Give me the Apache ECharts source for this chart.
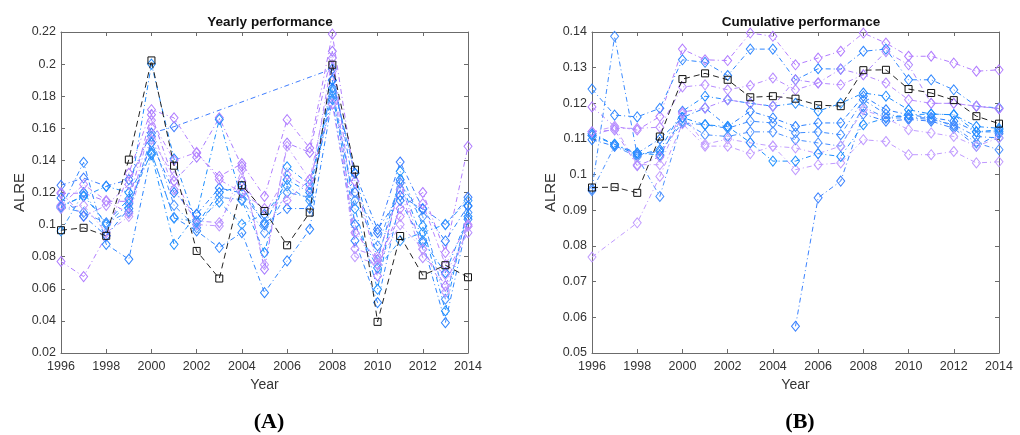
<!DOCTYPE html>
<html><head><meta charset="utf-8">
<script src="https://cdn.jsdelivr.net/npm/echarts@6/dist/echarts.min.js"></script>
<style>html,body{margin:0;padding:0;background:#fff}#c{width:1020px;height:435px}</style>
</head><body><div id="c"></div>
<script>
const years = [1996,1997,1998,1999,2000,2001,2002,2003,2004,2005,2006,2007,2008,2009,2010,2011,2012,2013,2014];
const xTicks = [1996,1998,2000,2002,2004,2006,2008,2010,2012,2014];

// Panel A: yearly performance (ALRE)
const yearlyBlack = [0.0965,0.098,0.093,0.1405,0.2023,0.1367,0.0836,0.0664,0.1245,0.1085,0.0871,0.1075,0.1996,0.1342,0.0394,0.0929,0.0684,0.0747,0.0672];
const yearlyA1 = [0.111,0.118,0.101,0.116,0.200,0.141,0.100,0.120,0.124,0.100,0.128,0.120,0.190,0.132,0.078,0.128,0.090,0.070,0.105];
const yearlyA2 = [0.1245,0.129,0.124,0.128,0.157,0.161,null,null,null,null,null,null,0.197,0.120,0.095,0.139,0.110,0.100,0.117];
const yearlyA3 = [0.077,0.0676,0.093,0.132,0.1716,0.1665,0.1446,0.130,0.138,0.1176,0.1654,0.1477,0.2187,0.127,0.075,0.110,0.120,0.0826,0.1488];
const yearlyA4 = [0.1193,0.1197,0.1145,0.1145,0.1685,0.127,0.142,0.1665,0.1363,0.0722,0.1508,0.145,0.208,0.100,0.068,0.126,0.0846,0.0618,0.099];
const yearlyA5 = [0.1103,0.1388,0.0877,0.0784,0.1446,0.1044,0.096,0.0857,0.095,0.0576,0.0774,0.0971,0.178,0.090,0.0514,0.115,0.0888,0.0389,0.1033];
const yearlyA6 = [0.1116,0.1176,0.1238,0.120,0.1436,0.0877,0.1064,0.1655,0.115,0.0826,0.136,0.125,0.185,0.110,0.0597,0.1332,0.0992,0.0462,0.1116];
const yearlyA7 = [0.120,0.105,0.112,0.125,0.1602,0.1218,0.1023,0.1012,0.127,0.1064,0.1311,0.122,0.2038,0.085,0.080,0.1218,0.0794,0.069,0.095];
const yearlyA8 = [0.111,0.1075,0.101,0.108,0.155,0.112,0.098,0.117,0.1156,0.095,0.120,0.117,0.180,0.115,0.0867,0.126,0.105,0.0535,0.1075];
const yearlyA9 = [0.110,0.112,0.095,0.105,0.153,0.130,0.100,0.0992,0.1342,0.075,0.1488,0.128,0.1955,0.080,0.0753,0.100,0.0846,0.058,0.0992];
const yearlyA10 = [0.1166,0.1054,0.093,0.110,0.151,0.120,0.1064,0.1228,0.1197,0.1012,0.110,0.110,0.190,0.1321,0.097,0.118,0.1096,0.0898,0.1116];
const yearlyA11 = [0.096,0.120,0.100,0.113,0.145,0.104,0.102,0.114,0.1002,0.1064,0.124,0.115,0.183,0.100,0.073,0.090,0.095,0.1002,0.115];
const yearlyA12 = [0.112,0.125,0.115,0.107,0.165,0.140,0.145,0.128,0.120,0.110,0.115,0.128,0.175,0.095,0.078,0.105,0.113,0.075,0.100];

// Panel B: cumulative performance (ALRE)
const cumBlack = [0.0964,0.0965,0.0949,0.1107,0.1268,0.1284,0.1266,0.1217,0.1220,0.1213,0.1195,0.1192,0.1293,0.1294,0.1240,0.1229,0.1209,0.1164,0.1143];
const cumB1 = [0.119,0.1135,0.1125,0.1163,0.1352,0.1322,0.132,0.1397,0.1388,0.1308,0.1327,0.1346,0.1397,0.1369,0.1332,0.1332,0.1313,0.129,0.1294];
const cumB2 = [0.124,0.1167,0.1162,0.1186,0.1322,0.1315,0.1278,0.1352,0.1352,0.1266,0.1297,0.1296,0.1346,0.1352,0.1266,0.1266,0.1238,0.1192,0.1187];
const cumB3 = [0.111,0.113,0.113,0.1133,0.1246,0.1252,0.1238,0.125,0.1271,0.1238,0.1257,0.1252,0.128,0.1257,0.121,0.120,0.120,0.1192,0.1185];
const cumB4 = [0.1115,0.1085,0.1055,0.107,0.1178,0.122,0.121,0.120,0.1192,0.120,0.1178,0.120,0.1229,0.122,0.1182,0.117,0.1168,0.1135,0.113];
const cumB5 = [0.1098,0.108,0.106,0.110,0.116,0.1187,0.1135,0.1178,0.1159,0.1135,0.1145,0.1145,0.122,0.1182,0.1168,0.116,0.115,0.112,0.112];
const cumB6 = [0.096,0.1388,0.1055,0.1065,0.1145,0.114,0.113,0.115,0.1145,0.1117,0.112,0.1112,0.121,0.117,0.1159,0.1155,0.114,0.1107,0.1103];
const cumB7 = [0.0955,0.108,0.105,0.0939,0.115,0.1112,0.1107,0.112,0.112,0.1098,0.1089,0.108,0.119,0.1159,0.1159,0.116,0.1135,0.1089,0.107];
const cumB8 = [0.0769,null,0.0865,0.0995,0.1143,0.108,0.108,0.1059,0.108,0.1014,0.1028,0.1033,0.1098,0.1093,0.1056,0.1056,0.1065,0.1033,0.1036];
const cumB9 = [null,null,null,null,null,null,null,null,null,0.0575,0.0935,0.0982,0.117,0.115,0.1155,0.115,0.113,0.108,0.1115];
const cumB10 = [0.112,0.1135,0.1028,0.1028,0.117,0.1085,0.110,0.1089,0.108,0.1075,0.1059,0.108,0.1182,0.1159,0.1126,0.1117,0.1107,0.108,0.1103];
const cumB11 = [0.111,0.1085,0.1061,0.1055,0.116,0.114,0.1135,0.109,0.1038,0.1038,0.1059,0.1051,0.114,0.1159,0.1168,0.117,0.1168,0.112,0.1126];
const cumB12 = [0.112,0.1125,0.1025,0.105,0.1175,0.1187,0.121,0.120,0.1192,0.1266,0.1257,0.1296,0.128,0.1345,0.1308,0.120,0.120,0.1192,0.1185];

const yearlyLines = [yearlyA1,yearlyA2,yearlyA3,yearlyA4,yearlyA5,yearlyA6,yearlyA7,yearlyA8,yearlyA9,yearlyA10,yearlyA11,yearlyA12];
const cumLines = [cumB1,cumB2,cumB3,cumB4,cumB5,cumB6,cumB7,cumB8,cumB9,cumB10,cumB11,cumB12];

const palA = ['#1f8bff','#3d7dff','#b07cff','#a77bff','#2f86ff','#1e90ff','#b48cff','#4b95ff','#c09aff','#2b7fff','#3399ff','#bb88ff'];
const palB = ['#b27cff','#2f87ff','#b88cff','#1f8bff','#2a80ff','#3d8cff','#4a90ff','#c09aff','#3b82ff','#c3a0ff','#1e90ff','#ad85ff'];

const axisColor = '#6b6b6b';
const labelFont = {color:'#333', fontSize:12.5, fontFamily:'Liberation Sans, Arial, sans-serif'};
const fmt = v => String(+v.toFixed(2));

function toPts(arr){ return years.map((y,i)=> [y, arr[i]==null ? '-' : arr[i]]); }

const grids = [
  {left:61, top:32, width:407, height:321},
  {left:592, top:32, width:407, height:321}
];

const xAxes = [], yAxes = [];
[0,1].forEach(g=>{
  const yMin = g===0 ? 0.02 : 0.05, yMax = g===0 ? 0.22 : 0.14, yInt = g===0 ? 0.02 : 0.01;
  xAxes.push({type:'value', gridIndex:g, min:1996, max:2014, interval:2, position:'bottom',
    name:'Year', nameLocation:'middle', nameGap:22, nameTextStyle:{color:'#333', fontSize:14, fontFamily:'Liberation Sans, Arial, sans-serif'},
    axisLine:{show:true, onZero:false, lineStyle:{color:axisColor}}, axisTick:{inside:true, length:4, lineStyle:{color:axisColor}},
    axisLabel:Object.assign({margin:7, formatter:v=>String(v)}, labelFont), splitLine:{show:false}});
  xAxes.push({type:'value', gridIndex:g, min:1996, max:2014, interval:2, position:'top',
    axisLine:{show:true, onZero:false, lineStyle:{color:axisColor}}, axisTick:{inside:true, length:4, lineStyle:{color:axisColor}},
    axisLabel:{show:false}, splitLine:{show:false}});
  yAxes.push({type:'value', gridIndex:g, min:yMin, max:yMax, interval:yInt, position:'left',
    name:'ALRE', nameLocation:'middle', nameGap:g===0?33:34, nameRotate:90, nameTextStyle:{color:'#333', fontSize:15, fontFamily:'Liberation Sans, Arial, sans-serif'},
    axisLine:{show:true, onZero:false, lineStyle:{color:axisColor}}, axisTick:{show:true, inside:true, length:4, lineStyle:{color:axisColor}},
    axisLabel:Object.assign({margin:5, formatter:fmt}, labelFont), splitLine:{show:false}});
  yAxes.push({type:'value', gridIndex:g, min:yMin, max:yMax, interval:yInt, position:'right',
    axisLine:{show:true, onZero:false, lineStyle:{color:axisColor}}, axisTick:{show:true, inside:true, length:4, lineStyle:{color:axisColor}},
    axisLabel:{show:false}, splitLine:{show:false}});
});

const series = [];
function addColored(arr, g, color){
  series.push({type:'line', xAxisIndex:g*2, yAxisIndex:g*2, data:toPts(arr), connectNulls:true,
    symbol:'diamond', symbolSize:[8,10], showAllSymbol:true,
    lineStyle:{color:color, width:1, type:[5,3,1,3]},
    itemStyle:{color:'rgba(255,255,255,0)', borderColor:color, borderWidth:1},
    emphasis:{disabled:true}, animation:false, z:2});
}
function addBlack(arr, g){
  series.push({type:'line', xAxisIndex:g*2, yAxisIndex:g*2, data:toPts(arr),
    symbol:'rect', symbolSize:7, showAllSymbol:true,
    lineStyle:{color:'#222', width:1, type:[6,4]},
    itemStyle:{color:'rgba(255,255,255,0)', borderColor:'#111', borderWidth:1},
    emphasis:{disabled:true}, animation:false, z:5});
}
yearlyLines.forEach((a,i)=>addColored(a,0,palA[i%palA.length]));
addBlack(yearlyBlack,0);
cumLines.forEach((a,i)=>addColored(a,1,palB[i%palB.length]));
addBlack(cumBlack,1);

const titleFont = {color:'#111', fontSize:13.5, fontWeight:'bold', fontFamily:'Liberation Sans, Arial, sans-serif'};
const chart = echarts.init(document.getElementById('c'), null, {renderer:'canvas'});
chart.setOption({
  animation:false,
  backgroundColor:'#fff',
  title:[
    {text:'Yearly performance', left:265, top:10, textAlign:'center', textStyle:titleFont},
    {text:'Cumulative performance', left:796, top:10, textAlign:'center', textStyle:titleFont},
    {text:'({b|A})', left:264, top:406, textAlign:'center', textStyle:{fontSize:22, color:'#000', fontFamily:'Liberation Serif, Times New Roman, serif',
      rich:{b:{fontSize:22, fontWeight:'bold', fontFamily:'Liberation Serif, Times New Roman, serif', color:'#000'}}}},
    {text:'({b|B})', left:795, top:406, textAlign:'center', textStyle:{fontSize:22, color:'#000', fontFamily:'Liberation Serif, Times New Roman, serif',
      rich:{b:{fontSize:22, fontWeight:'bold', fontFamily:'Liberation Serif, Times New Roman, serif', color:'#000'}}}}
  ],
  grid:grids,
  xAxis:xAxes,
  yAxis:yAxes,
  series:series
});
</script>
</body></html>
